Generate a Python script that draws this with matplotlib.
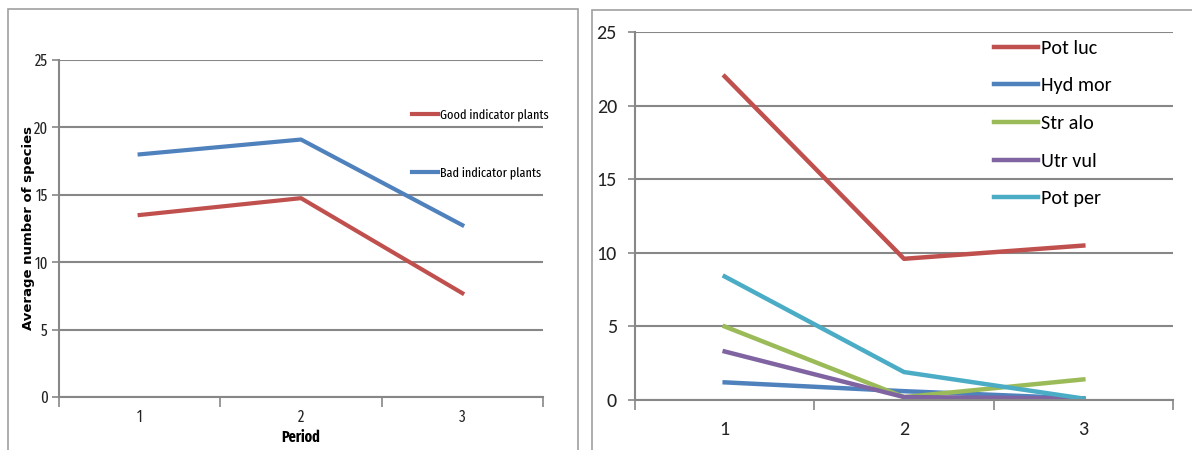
import matplotlib.pyplot as plt
from matplotlib.patches import Rectangle

# left chart data
periods = [1, 2, 3]
good_plants = [13.5, 14.75, 7.7]
bad_plants = [18.0, 19.1, 12.75]

# right chart data
species = ['Pot luc', 'Hyd mor', 'Str alo', 'Utr vul', 'Pot per']
pot_luc = [22.0, 9.6, 10.5]
hyd_mor = [1.2, 0.6, 0.1]
str_alo = [5.0, 0.2, 1.4]
utr_vul = [3.3, 0.2, 0.1]
pot_per = [8.4, 1.9, 0.1]
y_ticks = [0, 5, 10, 15, 20, 25]

red, blue, green, purple, cyan = '#C0504D', '#4F81BD', '#9BBB59', '#8064A2', '#4BACC6'
grid_c = '#878787'
narrow = ['Fira Sans Extra Condensed', 'DejaVu Sans']
calibri = ['Carlito', 'DejaVu Sans']

fig = plt.figure(figsize=(11.92, 4.5), dpi=100)
fig.patches.append(Rectangle((8/1192, -0.01), 570/1192, 1 - 9/450 + 0.01, transform=fig.transFigure,
                             fill=False, edgecolor='#A0A0A0', lw=1.2))
fig.patches.append(Rectangle((592/1192, -0.01), 0.6, 1 - 10/450 + 0.01, transform=fig.transFigure,
                             fill=False, edgecolor='#A0A0A0', lw=1.2))


def style_axis(ax, fs, fam, xpad, ypad):
    ax.set_xlim(0.5, 3.5)
    ax.set_ylim(0, 25)
    ax.set_yticks(y_ticks, labels=[str(v) for v in y_ticks], fontsize=fs, family=fam, color='#222222')
    ax.set_xticks(periods, labels=[str(p) for p in periods], fontsize=fs, family=fam, color='#222222')
    ax.set_xticks([0.5, 1.5, 2.5, 3.5], minor=True)
    ax.tick_params(axis='x', which='major', length=0, pad=xpad)
    ax.tick_params(axis='x', which='minor', length=7, width=1.2, color=grid_c, direction='out')
    ax.tick_params(axis='y', length=5, width=1.2, color=grid_c, pad=ypad)
    ax.grid(axis='y', color=grid_c, lw=1.5)
    ax.set_axisbelow(True)
    for s in ['top', 'right']:
        ax.spines[s].set_visible(False)
    for s in ['left', 'bottom']:
        ax.spines[s].set_color(grid_c)
        ax.spines[s].set_linewidth(1.5)


ax1 = fig.add_axes([59/1192, 1 - 397/450, 484/1192, 337/450])
style_axis(ax1, 11.5, narrow, 9, 3)
ax1.plot(periods, good_plants, color=red, lw=3, label='Good indicator plants')
ax1.plot(periods, bad_plants, color=blue, lw=3, label='Bad indicator plants')
ax1.set_ylabel('Average number of species', fontsize=9.5, fontweight='bold', labelpad=-1)
ax1.set_xlabel('Period', fontsize=11, fontweight='bold', family=narrow, labelpad=3)
ax1.legend(loc='center left', bbox_to_anchor=(0.729, 0.751), frameon=False,
           prop={'family': narrow, 'size': 9.5}, handlelength=2.0, handletextpad=0.1,
           labelspacing=3.4, borderpad=0, borderaxespad=0)

ax2 = fig.add_axes([635/1192, 1 - 400/450, 538/1192, 367.7/450])
style_axis(ax2, 14.5, calibri, 15, 8)
for vals, name, c in zip([pot_luc, hyd_mor, str_alo, utr_vul, pot_per], species,
                         [red, blue, green, purple, cyan]):
    ax2.plot(periods, vals, color=c, lw=3.2, label=name)
ax2.legend(loc='center left', bbox_to_anchor=(0.667, 0.752), frameon=False,
           prop={'family': calibri, 'size': 14.5}, handlelength=2.2,
           handletextpad=0.15, labelspacing=1.02, borderpad=0, borderaxespad=0)

fig.savefig('out.png', dpi=100)
